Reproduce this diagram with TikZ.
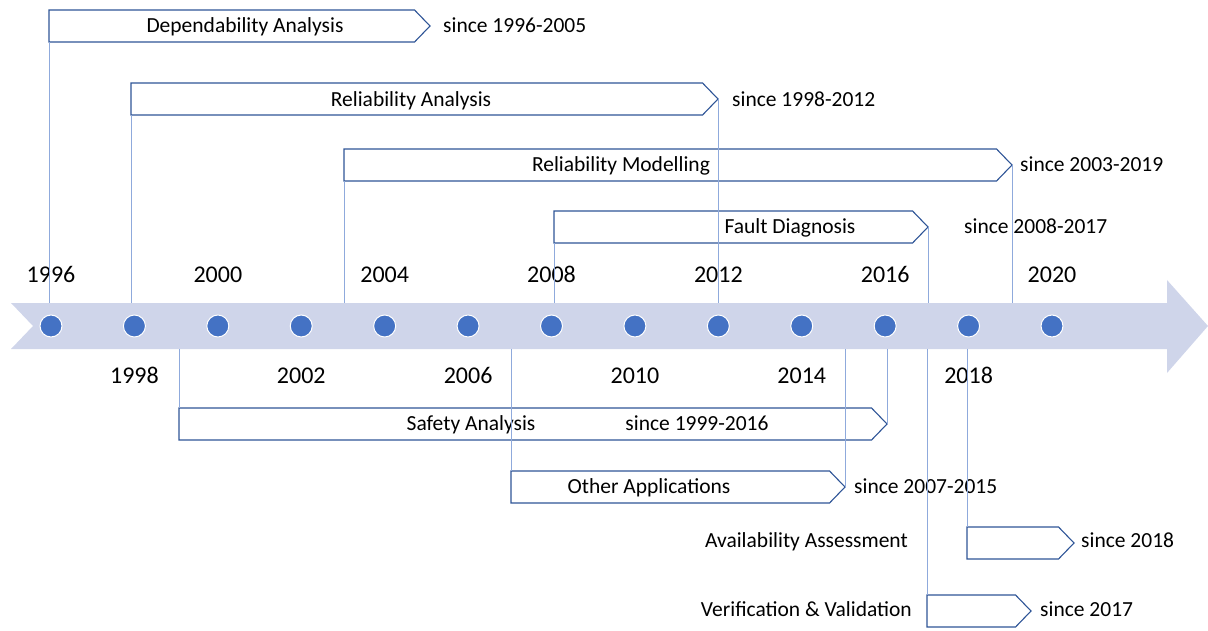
\documentclass[tikz,border=0pt]{standalone}
\usepackage{fontspec}
\setmainfont{Carlito}
\usepackage{tikz}
\usetikzlibrary{shapes.symbols}
\definecolor{bandblue}{HTML}{CFD5EA}
\definecolor{dotblue}{HTML}{4472C4}
\definecolor{barline}{HTML}{2F5597}
\definecolor{linkblue}{HTML}{8FAADC}
\tikzset{
  barnode/.style={signal,signal to=east,signal pointer angle=92,draw=barline,fill=white,
    line width=1.1pt,minimum height=32pt,inner sep=0pt,outer sep=0pt,minimum width=#1},
  yeardot/.style={circle,fill=dotblue,draw=white,line width=1pt,minimum size=22pt,inner sep=0pt},
  txtlabel/.style={font=\fontsize{21.5}{24}\selectfont,inner sep=0pt,anchor=mid,yshift=-4.5pt},
  yrlabel/.style={font=\fontsize{24}{27}\selectfont,inner sep=0pt,anchor=mid,yshift=-5.5pt},
  sincelabel/.style={txtlabel,anchor=mid west},
  linkedge/.style={draw=linkblue,line width=0.8pt},
  bandfill/.style={fill=bandblue},
}

\begin{document}
\begin{tikzpicture}[x=1pt,y=-1pt]
  \useasboundingbox (0,0) rectangle (1208,631);
  % timeline band
  \fill[bandfill] (11,303) -- (1167,303) -- (1167,280) -- (1208,326) -- (1167,373)
    -- (1167,349) -- (11,349) -- (33,326) -- cycle;
  \coordinate (bandtop) at (0,303);
  \coordinate (bandbot) at (0,349);
  \node[yeardot] (d96) at (51.00,326) {};
  \node[yeardot] (d98) at (134.42,326) {};
  \node[yeardot] (d00) at (217.83,326) {};
  \node[yeardot] (d02) at (301.25,326) {};
  \node[yeardot] (d04) at (384.67,326) {};
  \node[yeardot] (d06) at (468.08,326) {};
  \node[yeardot] (d08) at (551.50,326) {};
  \node[yeardot] (d10) at (634.92,326) {};
  \node[yeardot] (d12) at (718.33,326) {};
  \node[yeardot] (d14) at (801.75,326) {};
  \node[yeardot] (d16) at (885.17,326) {};
  \node[yeardot] (d18) at (968.58,326) {};
  \node[yeardot] (d20) at (1052.00,326) {};
  \node[yrlabel] (y96) at (51.00,275) {1996};
  \node[yrlabel] (y98) at (134.42,376) {1998};
  \node[yrlabel] (y00) at (217.83,275) {2000};
  \node[yrlabel] (y02) at (301.25,376) {2002};
  \node[yrlabel] (y04) at (384.67,275) {2004};
  \node[yrlabel] (y06) at (468.08,376) {2006};
  \node[yrlabel] (y08) at (551.50,275) {2008};
  \node[yrlabel] (y10) at (634.92,376) {2010};
  \node[yrlabel] (y12) at (718.33,275) {2012};
  \node[yrlabel] (y14) at (801.75,376) {2014};
  \node[yrlabel] (y16) at (885.17,275) {2016};
  \node[yrlabel] (y18) at (968.58,376) {2018};
  \node[yrlabel] (y20) at (1052.00,275) {2020};
  % bars above the band
  \node[barnode=381pt,anchor=west] (nDep) at (49,26) {};
  \node[barnode=587pt,anchor=west] (nRel) at (131,99) {};
  \node[barnode=668pt,anchor=west] (nMod) at (344,165) {};
  \node[barnode=374pt,anchor=west] (nFault) at (554,227) {};
  \node[txtlabel] (tDep) at (245,26) {Dependability Analysis};
  \node[txtlabel] (tRel) at (411,100) {Reliability Analysis};
  \node[txtlabel] (tMod) at (621,165) {Reliability Modelling};
  \node[txtlabel] (tFault) at (790,227) {Fault Diagnosis};
  \node[sincelabel] (sDep) at (443,26) {since 1996-2005};
  \node[sincelabel] (sRel) at (732,100) {since 1998-2012};
  \node[sincelabel] (sMod) at (1020,165) {since 2003-2019};
  \node[sincelabel] (sFault) at (964,227) {since 2008-2017};
  % bars below the band
  \node[barnode=708pt,anchor=west] (nSafe) at (179,424) {};
  \node[barnode=334pt,anchor=west] (nOther) at (511,487) {};
  \node[barnode=107pt,anchor=west] (nAvail) at (967,543) {};
  \node[barnode=104pt,anchor=west] (nVV) at (927,611) {};
  \node[txtlabel] (tSafe) at (471,424) {Safety Analysis};
  \node[txtlabel] (sSafe) at (697,424) {since 1999-2016};
  \node[txtlabel] (tOther) at (649,487) {Other Applications};
  \node[sincelabel] (sOther) at (854,487) {since 2007-2015};
  \node[txtlabel,anchor=mid east] (tAvail) at (908,541) {Availability Assessment};
  \node[sincelabel] (sAvail) at (1081,541) {since 2018};
  \node[txtlabel,anchor=mid east] (tVV) at (912,610) {Verification \& Validation};
  \node[sincelabel] (sVV) at (1040,610) {since 2017};
  % links to the band
  \draw[linkedge] (nDep.south west) -- (nDep.south west |- bandtop);
  \draw[linkedge] (nRel.south west) -- (nRel.south west |- bandtop);
  \draw[linkedge] (nRel.east) -- (nRel.east |- bandtop);
  \draw[linkedge] (nMod.south west) -- (nMod.south west |- bandtop);
  \draw[linkedge] (nMod.east) -- (nMod.east |- bandtop);
  \draw[linkedge] (nFault.south west) -- (nFault.south west |- bandtop);
  \draw[linkedge] (nFault.east) -- (nFault.east |- bandtop);
  \draw[linkedge] (nSafe.north west) -- (nSafe.north west |- bandbot);
  \draw[linkedge] (nSafe.east) -- (nSafe.east |- bandbot);
  \draw[linkedge] (nOther.north west) -- (nOther.north west |- bandbot);
  \draw[linkedge] (nOther.east) -- (nOther.east |- bandbot);
  \draw[linkedge] (nAvail.north west) -- (nAvail.north west |- bandbot);
  \draw[linkedge] (nVV.north west) -- (nVV.north west |- bandbot);
\end{tikzpicture}
\end{document}
